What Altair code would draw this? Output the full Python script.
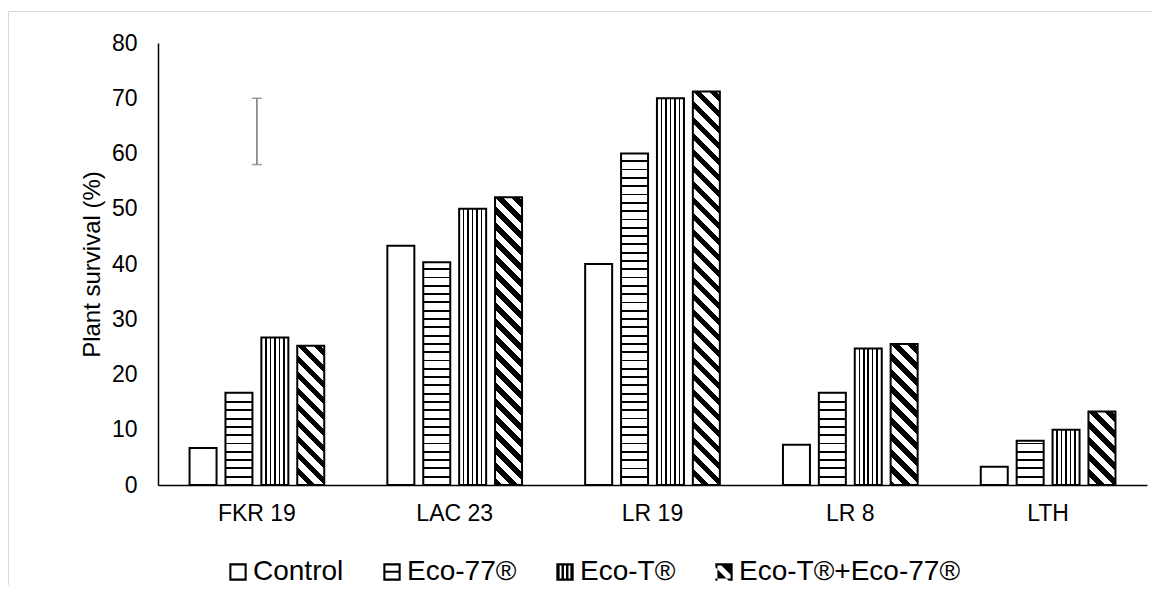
import altair as alt
import pandas as pd

# ---------------- data ----------------
categories = ["FKR 19", "LAC 23", "LR 19", "LR 8", "LTH"]
treatments = ["Control", "Eco-77®", "Eco-T®", "Eco-T®+Eco-77®"]
control = [6.7, 43.3, 40.0, 7.3, 3.3]
eco77 = [16.7, 40.3, 60.0, 16.7, 8.0]
ecoT = [26.7, 50.0, 70.0, 24.7, 10.0]
combo = [25.2, 52.1, 71.2, 25.5, 13.3]
err_cat = ["FKR 19"]
err_lo = [58.0]
err_hi = [70.0]

series = [control, eco77, ecoT, combo]
rows = []
for t, vals in zip(treatments, series):
    for c, v in zip(categories, vals):
        rows.append({"cat": c, "trt": t, "val": v})
df = pd.DataFrame(rows)
err_df = pd.DataFrame({"cat": err_cat, "lo": err_lo, "hi": err_hi})

# ---------------- layout ----------------
W, H = 989, 442
YMAX = 80
PI, PO = 0.248, 0.879
group = W / len(categories)
step = group / (len(treatments) - PI + 2 * PO)
BW = step * (1 - PI)
PXU = H / YMAX
FONT = "Liberation Sans"


def stops_from(intervals):
    s = [{"offset": 0, "color": "white"}]
    for a, b in intervals:
        a = round(max(0.0, min(1.0, a)), 5)
        b = round(max(0.0, min(1.0, b)), 5)
        if b <= a:
            continue
        s += [{"offset": a, "color": "white"}, {"offset": a, "color": "black"},
              {"offset": b, "color": "black"}, {"offset": b, "color": "white"}]
    s.append({"offset": 1, "color": "white"})
    return s


def hgrad(h):
    P, t = 8.3, 1.8
    iv = []
    k = 1
    while k * P + t / 2 < h - 1:
        iv.append(((k * P - t / 2) / h, (k * P + t / 2) / h))
        k += 1
    return {"gradient": "linear", "x1": 0, "y1": 1, "x2": 0, "y2": 0, "stops": stops_from(iv)}


def vgrad(w):
    t = 1.5
    iv = [((w * k / 6 - t / 2) / w, (w * k / 6 + t / 2) / w) for k in range(1, 6)]
    return {"gradient": "linear", "x1": 0, "y1": 0, "x2": 1, "y2": 0, "stops": stops_from(iv)}


def dgrad(w, h):
    P, B = 16.0, 7.5
    s = (w + h) / (w * w + h * h)
    iv = []
    k = int(-h // P) - 2
    while k * P < w + P:
        a, b = k * P, k * P + B
        iv.append(((a + h) / (w + h), (b + h) / (w + h)))
        k += 1
    return {"gradient": "linear", "x1": 0, "y1": 1, "x2": w * s, "y2": 1 - h * s,
            "stops": stops_from(iv)}


xscale = alt.Scale(domain=categories, paddingInner=0, paddingOuter=0)
oscale = alt.Scale(domain=treatments, paddingInner=PI, paddingOuter=PO)
yscale = alt.Scale(domain=[0, YMAX], nice=False, zero=True)
xaxis = alt.Axis(title=None, labelAngle=0, ticks=False, tickSize=0, grid=False,
                 domainColor="black", domainWidth=1.5, labelFont=FONT,
                 labelFontSize=23, labelColor="black", labelPadding=17)
yaxis = alt.Axis(title="Plant survival (%)", values=list(range(0, 81, 10)), ticks=False,
                 tickSize=0, grid=False, domainColor="black", domainWidth=1.5,
                 labelFont=FONT, labelFontSize=23, labelColor="black", labelPadding=21,
                 titleFont=FONT, titleFontSize=24, titleFontWeight="normal",
                 titleColor="black", titleAngle=270, titleBaseline="middle",
                 titleAlign="center", titleX=-66, titleY=H / 2)

enc = dict(
    x=alt.X("cat:N", scale=xscale, axis=xaxis),
    xOffset=alt.XOffset("trt:N", scale=oscale),
    y=alt.Y("val:Q", scale=yscale, axis=yaxis),
)

base = alt.Chart(df)

layers = []
# chart-area frame
frame = alt.Chart(alt.Data(values=[{"a": 1}])).mark_rect(
    fill="transparent", stroke="#d9d9d9", strokeWidth=1
).encode(x=alt.value(-149.5), x2=alt.value(1400), y=alt.value(-31.5), y2=alt.value(800))
layers.append(frame)

for t, vals in zip(treatments, series):
    for c, v in zip(categories, vals):
        h = v * PXU
        if t == "Control":
            fill = "white"
        elif t == "Eco-77®":
            fill = hgrad(h)
        elif t == "Eco-T®":
            fill = vgrad(BW)
        else:
            fill = dgrad(BW, h)
        lay = base.transform_filter(
            (alt.datum.cat == c) & (alt.datum.trt == t)
        ).mark_bar(fill=fill, stroke="black", strokeWidth=2).encode(**enc)
        layers.append(lay)

# error bar
err_rule = alt.Chart(err_df).mark_rule(color="#767676", strokeWidth=1.5).encode(
    x=alt.X("cat:N", scale=xscale, axis=xaxis),
    y=alt.Y("lo:Q", scale=yscale, axis=yaxis),
    y2="hi:Q",
)
err_lo_t = alt.Chart(err_df).mark_tick(color="#767676", thickness=1.5, size=10,
                                       orient="horizontal").encode(
    x=alt.X("cat:N", scale=xscale, axis=xaxis),
    y=alt.Y("lo:Q", scale=yscale, axis=yaxis),
)
err_hi_t = alt.Chart(err_df).mark_tick(color="#767676", thickness=1.5, size=10,
                                       orient="horizontal").encode(
    x=alt.X("cat:N", scale=xscale, axis=xaxis),
    y=alt.Y("hi:Q", scale=yscale, axis=yaxis),
)
layers += [err_rule, err_lo_t, err_hi_t]

# legend carrier (invisible points) with pattern-like symbols
frame_p = "M-1,-1H1V-0.76H-1Z M-1,0.76H1V1H-1Z M-1,-1H-0.76V1H-1Z M0.76,-1H1V1H0.76Z"
shape_paths = [
    frame_p,
    frame_p + " M-1,-0.14H1V0.1H-1Z",
    "M-1,-1H1V-0.76H-1Z M-1,0.76H1V1H-1Z M-1,-1H-0.62V1H-1Z M-0.4,-1H-0.12V1H-0.4Z "
    "M0.12,-1H0.4V1H0.12Z M0.62,-1H1V1H0.62Z",
    frame_p + " M-0.55,-1L1,-1L1,0.55Z M-1,-0.55L-1,1L0.55,1Z",
]
legend = alt.Legend(orient="none", legendX=66, legendY=515, direction="horizontal",
                    title=None, labelFont=FONT, labelFontSize=28, labelColor="black",
                    labelLimit=500, symbolSize=300, symbolFillColor="black",
                    symbolStrokeWidth=0, symbolOpacity=1, columnPadding=34,
                    labelOffset=1, padding=0)
leg = base.mark_point(filled=True, opacity=0, color="black").encode(
    x=alt.X("cat:N", scale=xscale, axis=xaxis),
    xOffset=alt.XOffset("trt:N", scale=oscale),
    y=alt.Y("val:Q", scale=yscale, axis=yaxis),
    shape=alt.Shape("trt:N", scale=alt.Scale(domain=treatments, range=shape_paths),
                    legend=legend),
)
layers.append(leg)

chart = alt.layer(*layers).properties(
    width=W, height=H,
    autosize=alt.AutoSizeParams(type="none"),
    padding={"left": 150, "top": 35, "right": 5, "bottom": 100},
    background="white",
).configure_view(stroke=None)

chart.save("out.html", embed_options={"renderer": "svg", "actions": False})
